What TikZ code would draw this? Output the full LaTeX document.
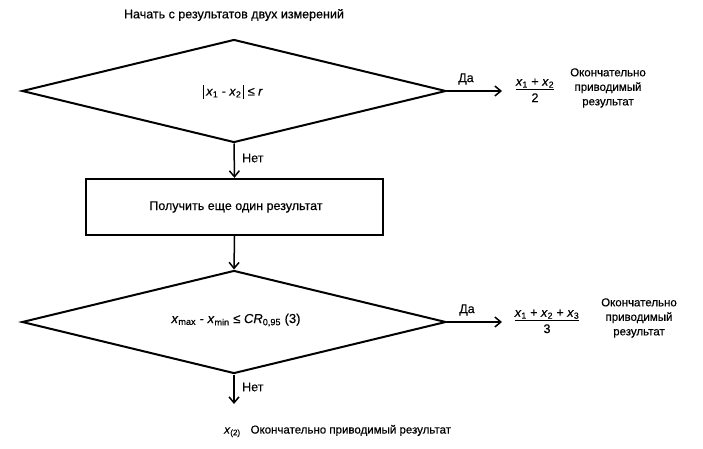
\documentclass[tikz,border=0pt]{standalone}
\usepackage{fontspec}
\setmainfont{Liberation Sans}[FakeBold=0.4]
\usetikzlibrary{shapes.geometric,arrows.meta}
\tikzset{
  dec/.style={diamond,draw,line width=2pt,inner sep=0pt,minimum width=424pt,minimum height=103pt},
  procbox/.style={rectangle,draw,line width=2.2pt,minimum width=297pt,minimum height=56pt,inner sep=0pt},
  conn/.style={line width=1.5pt,-{Straight Barb[length=6pt,width=10pt,line width=1.5pt]}},
  lbl/.style={font=\fontsize{12.5}{14}\selectfont,inner sep=0pt},
  txt/.style={font=\fontsize{12.5}{14.5}\selectfont,inner sep=0pt,align=center},
  side/.style={font=\fontsize{11.5}{14.5}\selectfont,inner sep=0pt,align=center},
}
\newcommand{\xv}[1]{\textit{x}\textsubscript{#1}}
\newcommand{\absbar}{\rule[-3.5pt]{0.9pt}{14pt}}
\setlength{\arrayrulewidth}{1pt}
\begin{document}
\begin{tikzpicture}[x=1pt,y=-1pt]
\useasboundingbox (0,0) rectangle (703,449);
\node[txt] (start) at (234,15) {Начать с результатов двух измерений};
\node[dec] (d1) at (234,91) {};
\node[txt] (c1) at (233,92) {\absbar\,\xv{1} - \xv{2}\,\absbar\ ≤ \textit{r}};
\coordinate (e1) at (502,91);
\draw[conn] (d1.east) -- (e1);
\node[lbl] (da1) at (466,79) {Да};
\node[txt] (f1) at (535,91) {\begin{tabular}{@{}c@{}}\xv{1} + \xv{2}\\[-1pt]\hline\rule{0pt}{12pt}2\end{tabular}};
\node[side] (t1) at (608,88) {Окончательно\\приводимый\\результат};
\node[procbox] (box) at (234.5,207) {};
\node[txt] (bt) at (236,207) {Получить еще один результат};
\draw[conn] (d1.south) -- (box.north);
\node[lbl,anchor=west] (net1) at (242,158) {Нет};
\node[dec] (d2) at (234,322) {};
\node[txt,font=\fontsize{13}{15}\selectfont] (c2) at (236,320) {\xv{max} - \xv{min} ≤ \textit{CR}\textsubscript{0,95} (3)};
\draw[conn] (box.south) -- (d2.north);
\coordinate (e2) at (502,322);
\draw[conn] (d2.east) -- (e2);
\node[lbl] (da2) at (467,310) {Да};
\node[txt] (f2) at (547,322) {\begin{tabular}{@{}c@{}}\xv{1} + \xv{2} + \xv{3}\\[-1pt]\hline\rule{0pt}{12pt}3\end{tabular}};
\node[side] (t2) at (639,318) {Окончательно\\приводимый\\результат};
\coordinate (e3) at (234,404);
\draw[conn] (d2.south) -- (e3);
\node[lbl,anchor=west] (net2) at (242,387) {Нет};
\node[side,anchor=west] (res) at (224,431) {\xv{(2)}\hspace{10pt}Окончательно приводимый результат};
\end{tikzpicture}
\end{document}
